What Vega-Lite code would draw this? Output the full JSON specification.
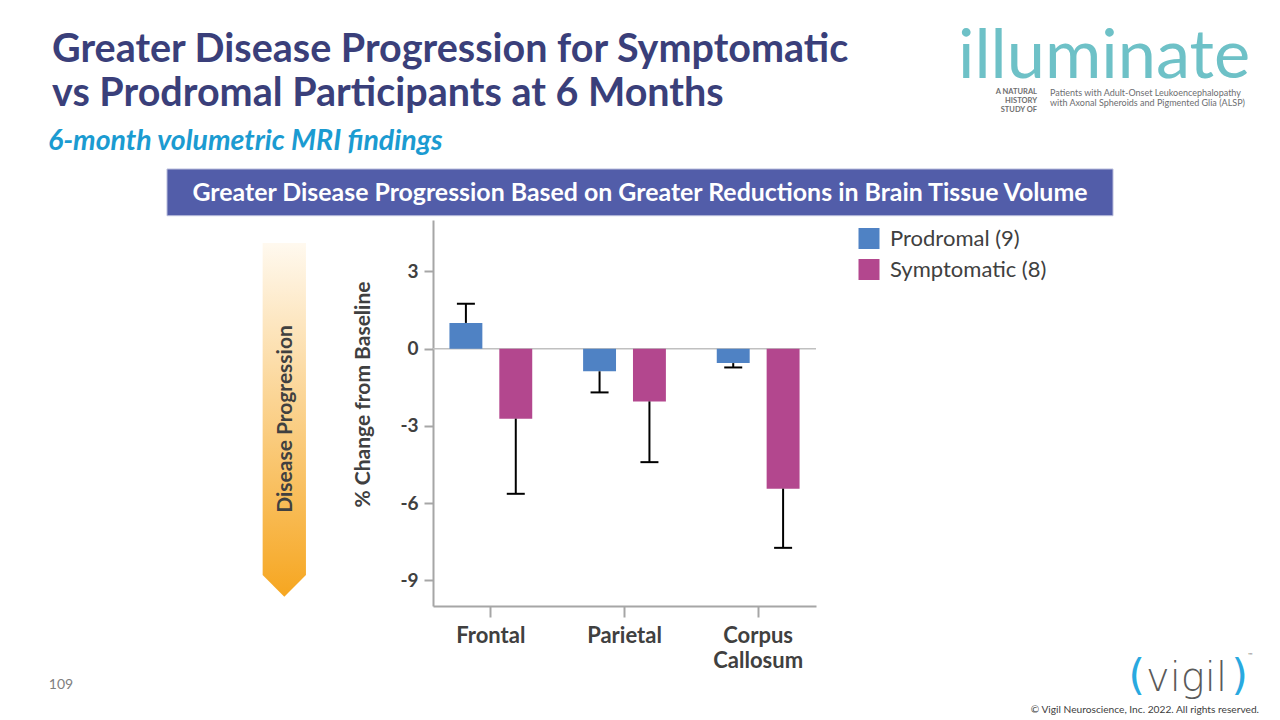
{
  "$schema": "https://vega.github.io/schema/vega-lite/v6.json",
  "width": 383,
  "height": 386,
  "autosize": {"type": "none"},
  "padding": {"left": 433, "top": 220, "right": 464, "bottom": 114},
  "background": "#FFFFFF",
  "config": {"view": {"stroke": null}},
  "data": {"values": [
    {"region": "Frontal", "group": "Prodromal (9)", "change": 1.0, "errEnd": 1.75},
    {"region": "Frontal", "group": "Symptomatic (8)", "change": -2.72, "errEnd": -5.64},
    {"region": "Parietal", "group": "Prodromal (9)", "change": -0.88, "errEnd": -1.70},
    {"region": "Parietal", "group": "Symptomatic (8)", "change": -2.05, "errEnd": -4.41},
    {"region": "Corpus Callosum", "group": "Prodromal (9)", "change": -0.56, "errEnd": -0.73},
    {"region": "Corpus Callosum", "group": "Symptomatic (8)", "change": -5.44, "errEnd": -7.74}
  ]},
  "layer": [
    {
      "data": {"values": [{}]},
      "mark": {"type": "text", "text": ["Greater Disease Progression for Symptomatic", "vs Prodromal Participants at 6 Months"], "x": -381, "y": -158, "align": "left", "baseline": "alphabetic", "lineHeight": 44, "font": "Lato", "fontSize": 39.5, "fontWeight": "bold", "fill": "#3A3F7A"},
      "encoding": {}
    },
    {
      "data": {"values": [{}]},
      "mark": {"type": "rule", "x": -394, "x2": 807, "y": -92.7, "stroke": "#7F84A8", "strokeWidth": 1.5},
      "encoding": {}
    },
    {
      "data": {"values": [{}]},
      "mark": {"type": "text", "text": "6-month volumetric MRI findings", "x": -385, "y": -70, "align": "left", "baseline": "alphabetic", "font": "Lato", "fontSize": 28.5, "fontWeight": "bold", "fontStyle": "italic", "fill": "#1B9BD1"},
      "encoding": {}
    },
    {
      "data": {"values": [{}]},
      "mark": {"type": "rect", "x": -266, "x2": 680, "y": -51, "y2": -4.3, "fill": "#525DA9", "stroke": "#B9BDDC", "strokeWidth": 1},
      "encoding": {}
    },
    {
      "data": {"values": [{}]},
      "mark": {"type": "text", "text": "Greater Disease Progression Based on Greater Reductions in Brain Tissue Volume", "x": 207, "y": -19.5, "align": "center", "baseline": "alphabetic", "font": "Lato", "fontSize": 24.9, "fontWeight": "bold", "fill": "#FFFFFF"},
      "encoding": {}
    },
    {
      "data": {"values": [{}]},
      "mark": {"type": "point", "shape": "M-1,0L1,0L1,15.33L0,16.34L-1,15.33Z", "size": 1875, "x": -148.7, "y": 23, "filled": true, "opacity": 1, "strokeWidth": 0,
        "fill": {"gradient": "linear", "x1": 0, "y1": 0, "x2": 0, "y2": 1, "stops": [{"offset": 0, "color": "#FFF9EF"}, {"offset": 1, "color": "#F6A620"}]}},
      "encoding": {}
    },
    {
      "data": {"values": [{}]},
      "mark": {"type": "text", "text": "Disease Progression", "x": -141.3, "y": 199, "angle": 270, "align": "center", "baseline": "alphabetic", "font": "Lato", "fontSize": 21, "fontWeight": "bold", "fill": "#404040"},
      "encoding": {}
    },
    {
      "data": {"values": [{}]},
      "mark": {"type": "text", "text": "illuminate", "x": 525, "y": -142, "align": "left", "baseline": "alphabetic", "font": "Lato", "fontSize": 68.5, "fontWeight": "normal", "fill": "#6EC1C7"},
      "encoding": {}
    },
    {
      "data": {"values": [{}]},
      "mark": {"type": "text", "text": ["A NATURAL", "HISTORY", "STUDY OF"], "x": 604, "y": -126.5, "align": "right", "baseline": "alphabetic", "lineHeight": 9, "font": "Lato", "fontSize": 7.5, "fontWeight": "bold", "fill": "#707070"},
      "encoding": {}
    },
    {
      "data": {"values": [{}]},
      "mark": {"type": "rule", "x": 611, "y": -134, "y2": -108, "stroke": "#AAAAAA", "strokeWidth": 1},
      "encoding": {}
    },
    {
      "data": {"values": [{}]},
      "mark": {"type": "text", "text": ["Patients with Adult-Onset Leukoencephalopathy", "with Axonal Spheroids and Pigmented Glia (ALSP)"], "x": 617, "y": -124, "align": "left", "baseline": "alphabetic", "lineHeight": 9.5, "font": "Lato", "fontSize": 9, "fill": "#6D6E71"},
      "encoding": {}
    },
    {
      "data": {"values": [{}]},
      "mark": {"type": "text", "text": "(", "x": 712, "y": 469.5, "align": "right", "baseline": "alphabetic", "font": "DejaVu Sans", "fontSize": 42, "fontWeight": "normal", "fill": "#29A9E0"},
      "encoding": {}
    },
    {
      "data": {"values": [{}]},
      "mark": {"type": "text", "text": ")", "x": 798.6, "y": 469.5, "align": "left", "baseline": "alphabetic", "font": "DejaVu Sans", "fontSize": 42, "fontWeight": "normal", "fill": "#29A9E0"},
      "encoding": {}
    },
    {
      "data": {"values": [{}]},
      "mark": {"type": "text", "text": "vigil", "x": 753.5, "y": 471, "align": "center", "baseline": "alphabetic", "font": "DejaVu Sans", "fontSize": 40, "fontWeight": 200, "fill": "#5A5A5A"},
      "encoding": {}
    },
    {
      "data": {"values": [{}]},
      "mark": {"type": "text", "text": "™", "x": 817, "y": 437, "align": "center", "baseline": "alphabetic", "font": "Lato", "fontSize": 6, "fill": "#808080"},
      "encoding": {}
    },
    {
      "data": {"values": [{}]},
      "mark": {"type": "text", "text": "© Vigil Neuroscience, Inc. 2022. All rights reserved.", "x": 826, "y": 493, "align": "right", "baseline": "alphabetic", "font": "Lato", "fontSize": 10.2, "fill": "#404040"},
      "encoding": {}
    },
    {
      "data": {"values": [{}]},
      "mark": {"type": "text", "text": "109", "x": -372, "y": 469, "align": "center", "baseline": "alphabetic", "font": "Lato", "fontSize": 14, "fill": "#7F7F7F"},
      "encoding": {}
    },
    {
      "data": {"values": [{}]},
      "mark": {"type": "rule", "stroke": "#C0C0C0", "strokeWidth": 1.5},
      "encoding": {"y": {"datum": 0, "type": "quantitative", "scale": {"domain": [-10, 5], "nice": false}}}
    },
    {
      "mark": {"type": "bar"},
      "encoding": {
        "x": {"field": "region", "type": "nominal", "sort": ["Frontal", "Parietal", "Corpus Callosum"],
          "scale": {"paddingInner": 0.3806, "paddingOuter": 0.123},
          "axis": {"title": null, "labelAngle": 0, "labelFont": "Lato", "labelFontSize": 22, "labelFontWeight": "bold", "labelColor": "#404040", "tickSize": 11, "tickColor": "#A6A6A6", "tickWidth": 2, "domainColor": "#A6A6A6", "domainWidth": 2, "labelPadding": 8, "labelLineHeight": 25,
            "labelExpr": "datum.value == 'Corpus Callosum' ? ['Corpus', 'Callosum'] : datum.value"}},
        "xOffset": {"field": "group", "type": "nominal", "sort": ["Prodromal (9)", "Symptomatic (8)"], "scale": {"paddingInner": 0.34, "paddingOuter": 0}},
        "y": {"field": "change", "type": "quantitative", "scale": {"domain": [-10, 5], "nice": false},
          "axis": {"title": "% Change from Baseline", "values": [3, 0, -3, -6, -9], "grid": false, "labelExpr": "toString(datum.value)", "labelFont": "Lato", "labelFontSize": 19, "labelFontWeight": "bold", "labelColor": "#404040", "tickSize": 9, "tickColor": "#A6A6A6", "tickWidth": 2, "domainColor": "#A6A6A6", "domainWidth": 2, "labelPadding": 6,
            "titleAngle": 270, "titleX": -63.5, "titleY": 174, "titleAlign": "center", "titleBaseline": "alphabetic", "titleFont": "Lato", "titleFontSize": 21, "titleFontWeight": "bold", "titleColor": "#404040"}},
        "color": {"field": "group", "type": "nominal", "sort": ["Prodromal (9)", "Symptomatic (8)"],
          "scale": {"domain": ["Prodromal (9)", "Symptomatic (8)"], "range": ["#4F82C4", "#B3478E"]},
          "legend": {"title": null, "orient": "none", "legendX": 425, "legendY": 7.5, "symbolType": "square", "symbolSize": 441, "symbolStrokeWidth": 0, "symbolOpacity": 1, "labelFont": "Lato", "labelFontSize": 22, "labelColor": "#404040", "labelOffset": 10, "rowPadding": 9, "padding": 0}}
      }
    },
    {
      "mark": {"type": "rule", "color": "#000000", "strokeWidth": 2},
      "encoding": {
        "x": {"field": "region", "type": "nominal", "sort": ["Frontal", "Parietal", "Corpus Callosum"]},
        "xOffset": {"field": "group", "type": "nominal", "sort": ["Prodromal (9)", "Symptomatic (8)"]},
        "y": {"field": "change", "type": "quantitative"},
        "y2": {"field": "errEnd"}
      }
    },
    {
      "mark": {"type": "tick", "color": "#000000", "size": 18, "thickness": 2, "orient": "horizontal", "opacity": 1},
      "encoding": {
        "x": {"field": "region", "type": "nominal", "sort": ["Frontal", "Parietal", "Corpus Callosum"]},
        "xOffset": {"field": "group", "type": "nominal", "sort": ["Prodromal (9)", "Symptomatic (8)"]},
        "y": {"field": "errEnd", "type": "quantitative"}
      }
    }
  ]
}
